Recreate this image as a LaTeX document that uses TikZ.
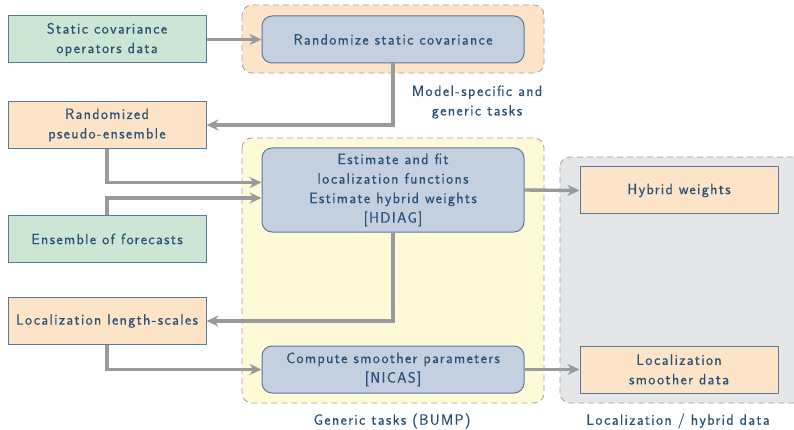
\documentclass[tikz,border=0pt]{standalone}
\usepackage{fontspec}
\newfontfamily\diagfont{Latin Modern Sans}[LetterSpace=9,FakeBold=0.5]
\usetikzlibrary{arrows.meta}
\definecolor{txt}{HTML}{2B5276}
\definecolor{bordc}{HTML}{5B7A99}
\definecolor{greenf}{HTML}{CCE6D5}
\definecolor{orangef}{HTML}{FDE4C8}
\definecolor{bluef}{HTML}{C4CFE0}
\definecolor{yellowf}{HTML}{FEF9D7}
\definecolor{grayf}{HTML}{E5E6E8}
\definecolor{grp}{HTML}{A0A0A0}
\definecolor{arrc}{HTML}{999A9C}
\begin{document}
\begin{tikzpicture}[x=1pt,y=-1pt,
 every node/.style={font=\diagfont\fontsize{15}{19.5}\selectfont, text=txt, align=center},
 databox/.style={draw=bordc, line width=1pt, minimum width=198pt, minimum height=47pt, inner sep=0pt},
 taskbox/.style={draw=bordc, line width=1pt, fill=bluef, rounded corners=10pt, minimum width=262pt, inner sep=0pt},
 group/.style={draw=grp, dash pattern=on 6pt off 4pt, line width=0.8pt, rounded corners=10pt},
 flow/.style={draw=arrc, line width=3.4pt, -{Stealth[length=12pt,width=11pt]}}]
\useasboundingbox (0,0) rectangle (794,430);
\draw[group, fill=orangef] (242,5) rectangle (544,73);
\draw[group, fill=yellowf] (242,138) rectangle (544,403);
\draw[group, fill=grayf] (560,157) rectangle (812,403);
\node[databox, fill=greenf] (static) at (107,39.5) {Static covariance\\operators data};
\node[taskbox, minimum height=47pt] (rand) at (393,39.5) {Randomize static covariance};
\node[databox, fill=orangef] (pseudo) at (107,125) {Randomized\\pseudo-ensemble};
\node[taskbox, minimum height=84pt] (est) at (393,190) {Estimate and fit\\localization functions\\Estimate hybrid weights\\{[HDIAG]}};
\node[databox, fill=greenf] (ens) at (107,239) {Ensemble of forecasts};
\node[databox, fill=orangef] (lls) at (107,321) {Localization length-scales};
\node[taskbox, minimum height=47pt] (comp) at (393,369.5) {Compute smoother parameters\\{[NICAS]}};
\node[databox, fill=orangef] (hyb) at (679,190.5) {Hybrid weights};
\node[databox, fill=orangef] (lsd) at (679,369.5) {Localization\\smoother data};
\node (lab1) at (477,102) {Model-specific and\\generic tasks};
\node (lab2) at (392,421) {Generic tasks (BUMP)};
\node (lab3) at (678,421) {Localization / hybrid data};
\draw[flow] (static) -- (rand);
\draw[flow] (rand.south) |- (pseudo.east);
\draw[flow] (pseudo.south) |- ([yshift=7.5pt]est.west);
\draw[flow] (ens.north) |- ([yshift=-8pt]est.west);
\draw[flow] (est.south) |- (lls.east);
\draw[flow] (lls.south) |- (comp.west);
\draw[flow] (est.east) -- (hyb.west);
\draw[flow] (comp.east) -- (lsd.west);
\end{tikzpicture}
\end{document}
